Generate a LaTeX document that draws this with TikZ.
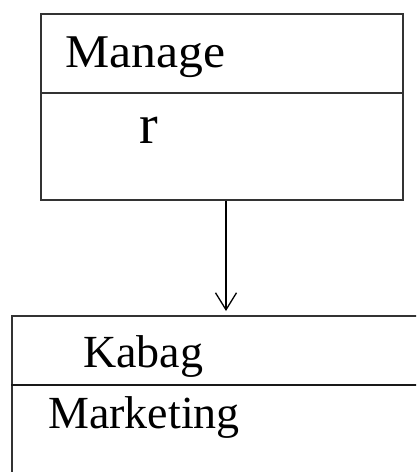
\documentclass[tikz,border=0pt]{standalone}
\usepackage{fontspec}
\setmainfont{Liberation Serif}
\usetikzlibrary{arrows.meta}
\begin{document}
\begin{tikzpicture}[x=1pt,y=-1pt,
  boxline/.style={draw=black!80, line width=1.5pt},
  classbox/.style={boxline, rectangle, inner sep=0pt, anchor=north west},
  divline/.style={draw=black!90, line width=1.8pt},
  lbl/.style={inner sep=0pt, anchor=base west, font=\fontsize{46}{50}\selectfont},
  conn/.style={draw=black, line width=1.3pt, -{Straight Barb[length=17pt,width=21pt,line width=1.3pt]}}]
\useasboundingbox (0,0) rectangle (416,472);
\clip (0,0) rectangle (416,472);
% top box
\node[classbox, minimum width=362pt, minimum height=186pt] (tb) at (40,13) {};
\coordinate (tdl) at (40,93);
\coordinate (tdr) at (402,93);
\draw[divline, draw=black!80, line width=1.6pt] (tdl) -- (tdr);
\node[lbl] (manage) at (65,67) {\scalebox{1.08}[1.02]{Manage}};
\node[lbl, font=\fontsize{56}{60}\selectfont] (r) at (139,143) {r};
% bottom box
\node[classbox, minimum width=430pt, minimum height=190pt] (bb) at (11,315) {};
\coordinate (bdl) at (11,385);
\coordinate (bdr) at (430,385);
\draw[divline] (bdl) -- (bdr);
\node[lbl] (kabag) at (83,367) {Kabag};
\node[lbl] (marketing) at (48,428) {Marketing};
% connector
\coordinate (as) at (226,200.5);
\coordinate (ae) at (226,311);
\draw[conn] (as) -- (ae);
\end{tikzpicture}
\end{document}
